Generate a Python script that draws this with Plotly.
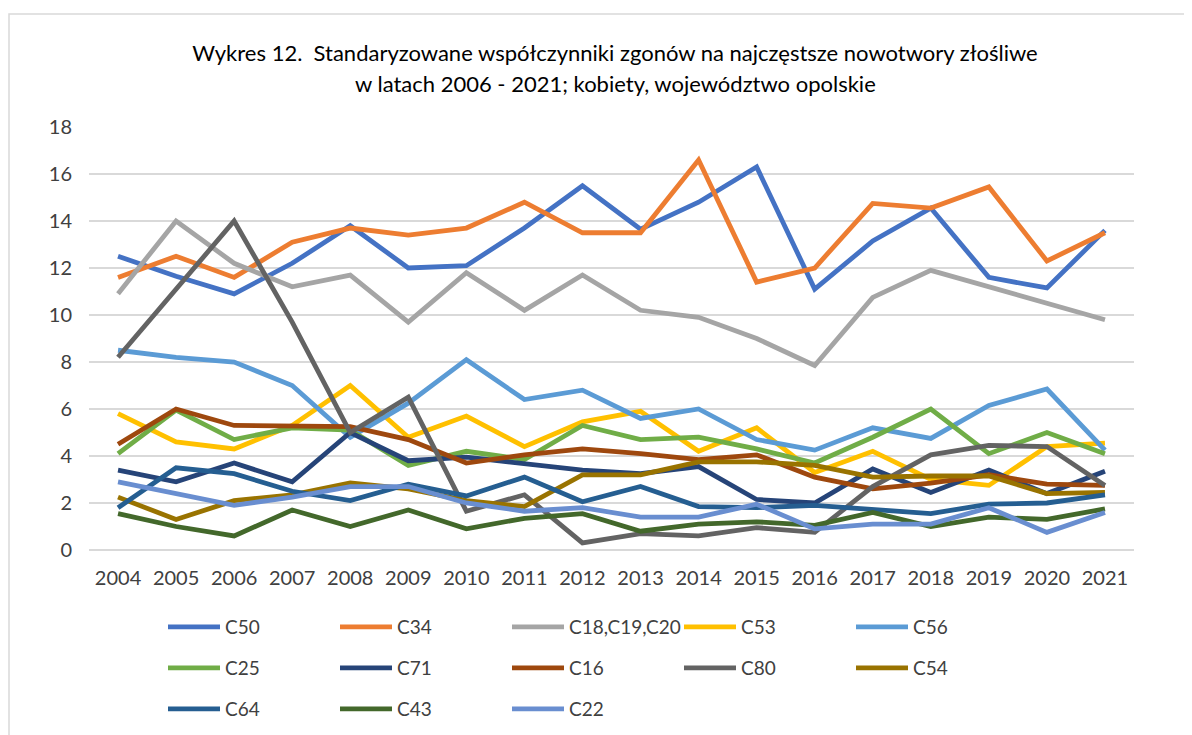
import plotly.graph_objects as go

years = [str(y) for y in range(2004, 2022)]

C50 = [12.5, 11.65, 10.9, 12.2, 13.8, 12.0, 12.1, 13.7, 15.5, 13.65, 14.8, 16.3, 11.1, 13.15, 14.55, 11.6, 11.15, 13.6]
C34 = [11.6, 12.5, 11.6, 13.1, 13.7, 13.4, 13.7, 14.8, 13.5, 13.5, 16.6, 11.4, 12.0, 14.75, 14.55, 15.45, 12.3, 13.5]
C18_C19_C20 = [10.9, 14.0, 12.2, 11.2, 11.7, 9.7, 11.8, 10.2, 11.7, 10.2, 9.9, 9.0, 7.85, 10.75, 11.9, 11.2, 10.45, 9.8]
C53 = [5.8, 4.6, 4.3, 5.3, 7.0, 4.8, 5.7, 4.4, 5.45, 5.9, 4.2, 5.2, 3.3, 4.2, 3.0, 2.75, 4.4, 4.55]
C56 = [8.5, 8.2, 8.0, 7.0, 4.8, 6.25, 8.1, 6.4, 6.8, 5.6, 6.0, 4.7, 4.25, 5.2, 4.75, 6.15, 6.85, 4.25]
C25 = [4.1, 5.95, 4.7, 5.2, 5.1, 3.6, 4.2, 3.85, 5.3, 4.7, 4.8, 4.3, 3.7, 4.8, 6.0, 4.1, 5.0, 4.1]
C71 = [3.4, 2.9, 3.7, 2.9, 5.0, 3.8, 3.95, 3.65, 3.4, 3.25, 3.55, 2.15, 2.0, 3.45, 2.45, 3.4, 2.4, 3.35]
C16 = [4.5, 6.0, 5.3, 5.3, 5.25, 4.7, 3.7, 4.05, 4.3, 4.1, 3.85, 4.05, 3.1, 2.6, 2.85, 3.2, 2.8, 2.75]
C80 = [8.2, 11.1, 14.0, 9.7, 5.0, 6.5, 1.65, 2.35, 0.3, 0.7, 0.6, 0.95, 0.75, 2.7, 4.05, 4.45, 4.4, 2.75]
C54 = [2.25, 1.3, 2.1, 2.35, 2.85, 2.6, 2.1, 1.85, 3.2, 3.2, 3.75, 3.75, 3.6, 3.1, 3.15, 3.15, 2.4, 2.45]
C64 = [1.8, 3.5, 3.25, 2.5, 2.1, 2.8, 2.3, 3.1, 2.05, 2.7, 1.85, 1.8, 1.9, 1.7, 1.55, 1.95, 2.0, 2.35]
C43 = [1.55, 1.0, 0.6, 1.7, 1.0, 1.7, 0.9, 1.35, 1.55, 0.8, 1.1, 1.2, 1.05, 1.6, 1.0, 1.4, 1.3, 1.75]
C22 = [2.9, 2.4, 1.9, 2.25, 2.7, 2.7, 2.0, 1.65, 1.8, 1.4, 1.4, 1.95, 0.9, 1.1, 1.1, 1.8, 0.75, 1.6]

series = [
    ("C50", C50, "#4472C4", "legend"),
    ("C34", C34, "#ED7D31", "legend"),
    ("C18,C19,C20", C18_C19_C20, "#A5A5A5", "legend"),
    ("C53", C53, "#FFC000", "legend"),
    ("C56", C56, "#5B9BD5", "legend"),
    ("C25", C25, "#70AD47", "legend2"),
    ("C71", C71, "#264478", "legend2"),
    ("C16", C16, "#9E480E", "legend2"),
    ("C80", C80, "#636363", "legend2"),
    ("C54", C54, "#997300", "legend2"),
    ("C64", C64, "#255E91", "legend3"),
    ("C43", C43, "#43682B", "legend3"),
    ("C22", C22, "#698ED0", "legend3"),
]

FONT = "Lato"
OFF = 8  # page body margin offset
W, H = 1192 - OFF, 735 - OFF
# plot area in reference-screen pixels
L, R, T, B = 89, 1134, 127, 550

fig = go.Figure()
for name, vals, color, leg in series:
    fig.add_trace(go.Scatter(
        x=years, y=vals, name=name, mode="lines",
        line=dict(color=color, width=4.8),
        legend=leg,
    ))

def px_x(px):
    return (px - L) / (R - L)

def px_y(py):
    return (B - py) / (B - T)

leg_common = dict(
    orientation="h", xanchor="left", yanchor="middle",
    entrywidth=105, entrywidthmode="pixels", itemwidth=52,
    font=dict(family=FONT, size=19, color="#404040"),
    bgcolor="rgba(0,0,0,0)", tracegroupgap=0,
    itemclick=False, itemdoubleclick=False,
)
x_leg = px_x(163)

fig.update_layout(
    width=W, height=H,
    margin=dict(l=L - OFF, r=W - (R - OFF), t=T - OFF, b=H - (B - OFF), autoexpand=False),
    paper_bgcolor="white", plot_bgcolor="white",
    font=dict(family=FONT, size=19, color="#404040"),
    title=dict(
        text="Wykres 12.  Standaryzowane współczynniki zgonów na najczęstsze nowotwory złośliwe",
        x=(615 - OFF) / W, xanchor="center", xref="container",
        y=1 - 45 / H, yanchor="middle", yref="container",
        font=dict(family=FONT, size=22, color="#000000"),
    ),
    xaxis=dict(
        type="category", range=[-0.5, 17.5],
        showgrid=False, zeroline=False, showline=False,
        ticks="", ticklabelstandoff=14,
        tickfont=dict(family=FONT, size=20, color="#404040"),
        fixedrange=True,
    ),
    yaxis=dict(
        range=[0, 18], dtick=2, tick0=0,
        showgrid=True, gridcolor="#D9D9D9", gridwidth=1.5,
        zeroline=True, zerolinecolor="#D9D9D9", zerolinewidth=1.5,
        showline=False, ticks="", ticklabelstandoff=16,
        tickfont=dict(family=FONT, size=20, color="#404040"),
        fixedrange=True,
    ),
    legend=dict(x=x_leg, y=px_y(627), **leg_common),
    legend2=dict(x=x_leg, y=px_y(668), **leg_common),
    legend3=dict(x=x_leg, y=px_y(709), **leg_common),
    showlegend=True,
    annotations=[
        dict(
            text="w latach 2006 - 2021; kobiety, województwo opolskie",
            xref="paper", yref="paper",
            x=px_x(615), y=px_y(84), xanchor="center", yanchor="middle",
            showarrow=False,
            font=dict(family=FONT, size=22, color="#000000"),
        )
    ],
    shapes=[
        dict(type="rect", xref="paper", yref="paper",
             x0=px_x(9), x1=px_x(1210), y0=px_y(14), y1=px_y(760),
             line=dict(color="#D9D9D9", width=1.5), fillcolor="rgba(0,0,0,0)",
             layer="below"),
    ],
)

fig.write_html("out.html")
